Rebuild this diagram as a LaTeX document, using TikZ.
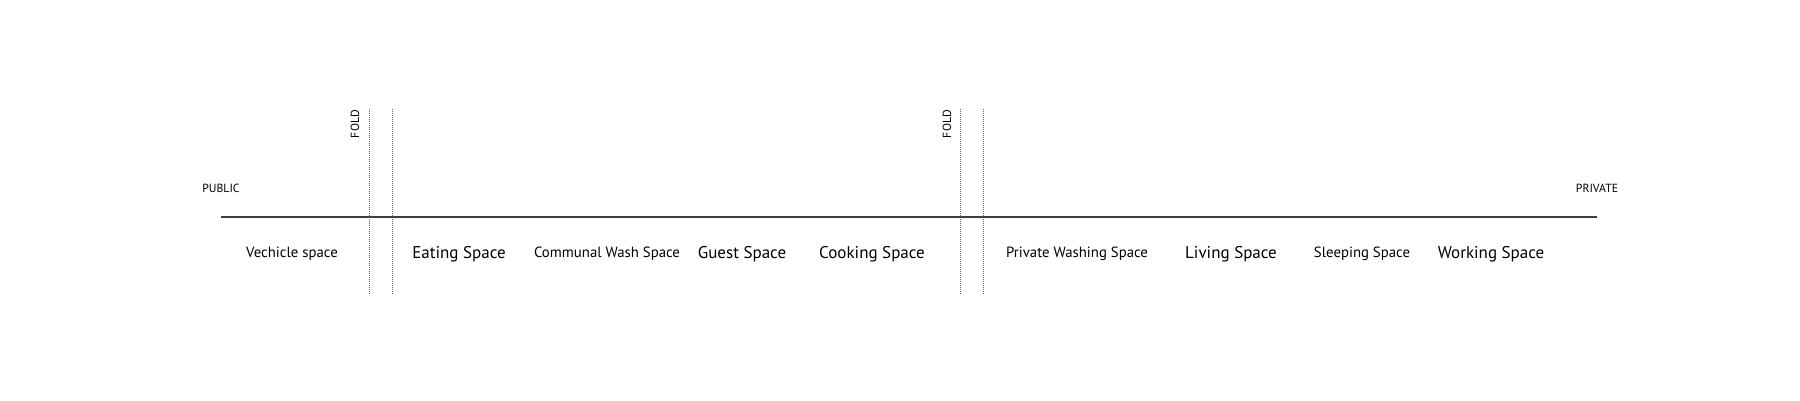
\documentclass[tikz,border=0pt]{standalone}
\usepackage{fontspec}
\setmainfont{PT Sans}
\begin{document}
\begin{tikzpicture}[x=1pt,y=-1pt,
  axis/.style={draw=black!75,line width=1.3pt},
  foldline/.style={draw=black!60,line width=0.9pt,dash pattern=on 1pt off 1pt},
  big/.style={inner sep=0pt,anchor=center,font=\fontsize{17}{19}\selectfont},
  small/.style={inner sep=0pt,anchor=center,font=\fontsize{14.8}{17}\selectfont},
  caps/.style={inner sep=0pt,anchor=center,font=\fontsize{11.8}{14}\selectfont},
  foldlbl/.style={inner sep=0pt,anchor=center,rotate=90,font=\fontsize{11.8}{14}\selectfont}]
\useasboundingbox (0,0) rectangle (1800,400);
\coordinate (a0) at (221,217);
\coordinate (a1) at (1597,217);
\draw[axis] (a0) -- (a1);
\coordinate (f1t) at (369,109); \coordinate (f1b) at (369,294);
\coordinate (f2t) at (392,109); \coordinate (f2b) at (392,294);
\coordinate (f3t) at (960,109); \coordinate (f3b) at (960,294);
\coordinate (f4t) at (983,109); \coordinate (f4b) at (983,294);
\draw[foldline] (f1t) -- (f1b);
\draw[foldline] (f2t) -- (f2b);
\draw[foldline] (f3t) -- (f3b);
\draw[foldline] (f4t) -- (f4b);
\node[foldlbl] (fold1) at (355,124) {FOLD};
\node[foldlbl] (fold2) at (947,124) {FOLD};
\node[caps] (public) at (221,188) {PUBLIC};
\node[caps] (private) at (1597,188) {PRIVATE};
\node[small] (vehicle) at (292,254) {Vechicle space};
\node[big] (eating) at (459,254) {Eating Space};
\node[small] (communal) at (607,254) {Communal Wash Space};
\node[big] (guest) at (742,254) {Guest Space};
\node[big] (cooking) at (872,254) {Cooking Space};
\node[small] (pwash) at (1077,254) {Private Washing Space};
\node[big] (living) at (1231,254) {Living Space};
\node[small] (sleeping) at (1362,254) {Sleeping Space};
\node[big] (working) at (1491,254) {Working Space};
\end{tikzpicture}
\end{document}
